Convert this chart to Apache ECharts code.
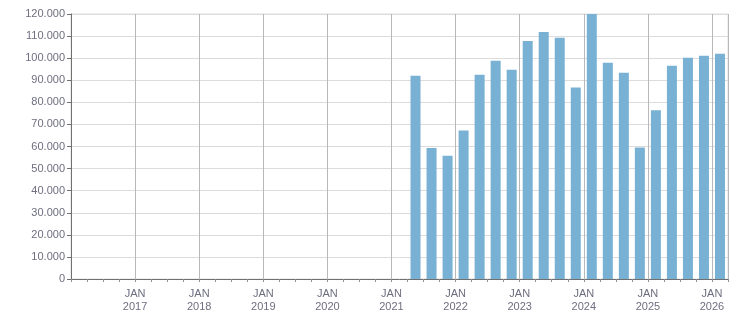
<!DOCTYPE html>
<html><head><meta charset="utf-8">
<script src="https://cdn.jsdelivr.net/npm/echarts@6/dist/echarts.min.js"></script>
<style>html,body{margin:0;padding:0;background:#fff}#c{width:751px;height:313px}</style>
</head><body><div id="c"></div>
<script>
// Quarters (bar categories) and values
var quarters = ['2021-Q2','2021-Q3','2021-Q4','2022-Q1','2022-Q2','2022-Q3','2022-Q4','2023-Q1','2023-Q2','2023-Q3','2023-Q4','2024-Q1','2024-Q2','2024-Q3','2024-Q4','2025-Q1','2025-Q2','2025-Q3','2025-Q4','2026-Q1'];
var values = [92000, 59300, 55800, 67300, 92500, 98800, 94800, 107800, 111900, 109200, 86700, 120000, 97900, 93400, 59600, 76400, 96600, 100200, 101100, 102000];
var startYear = 2016;
var yTicks = [0,10000,20000,30000,40000,50000,60000,70000,80000,90000,100000,110000,120000];

function qIndex(q){ var p=q.split('-Q'); return (parseInt(p[0])-startYear)*4 + (parseInt(p[1])-1) + 0.5; }
var data = quarters.map(function(q,i){ return [qIndex(q), values[i]]; });
function fmtThousands(v){ return String(v).replace(/\B(?=(\d{3})+(?!\d))/g,'.'); }

var chart = echarts.init(document.getElementById('c'));
chart.setOption({
  animation:false,
  grid:{left:71,right:23,top:14,bottom:32,show:true,borderColor:'#dedede',borderWidth:1},
  xAxis:{type:'value',min:0,max:41,interval:4,
    axisLine:{show:true,lineStyle:{color:'#707070',width:1}},
    axisTick:{show:true,length:3,lineStyle:{color:'#909090'}},
    minorTick:{show:true,splitNumber:4,length:3,lineStyle:{color:'#909090'}},
    splitLine:{show:true,lineStyle:{color:'#b8b8b8',width:1}},
    axisLabel:{color:'#6e6e80',fontFamily:'Liberation Sans',fontSize:11,lineHeight:13,margin:8,
      formatter:function(v){ if(v===0) return ''; return 'JAN\n'+(startYear+v/4); }}
  },
  yAxis:{type:'value',min:0,max:120000,interval:10000,
    axisLine:{show:true,lineStyle:{color:'#707070',width:1}},
    axisTick:{show:true,length:4,lineStyle:{color:'#707070'}},
    splitLine:{show:true,lineStyle:{color:'#dcdcdc',width:1}},
    axisLabel:{color:'#6e6e80',fontFamily:'Liberation Sans',fontSize:11,margin:6,
      formatter:function(v){ return fmtThousands(v); }}
  },
  series:[{type:'bar',data:data,barWidth:10,itemStyle:{color:'#78b1d3'}}]
});
</script></body></html>
